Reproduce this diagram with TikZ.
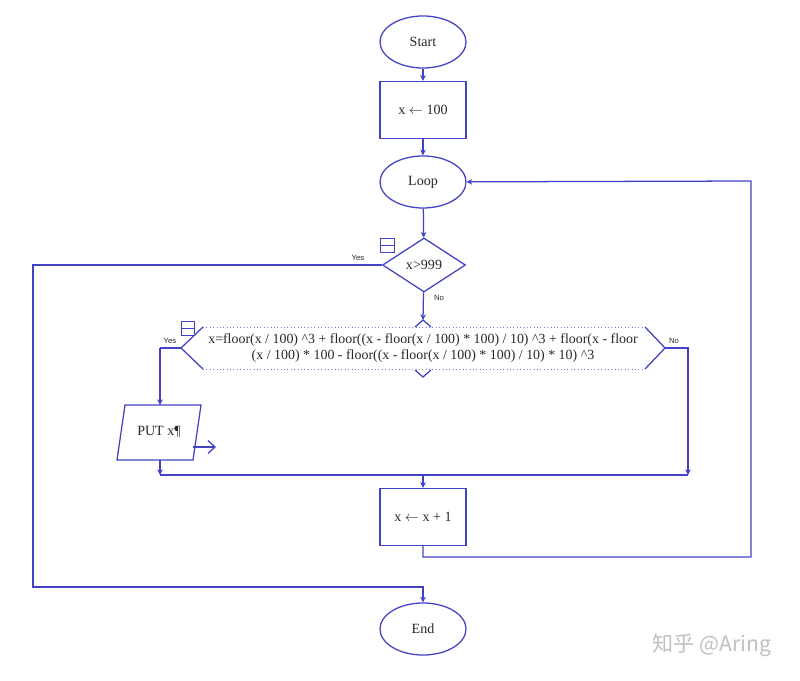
\documentclass[tikz,border=0pt]{standalone}
\usepackage{fontspec}
\setmainfont{Liberation Serif}
\newfontfamily\tagfont{Liberation Sans}
\newfontfamily\cjkfont{Noto Sans CJK SC}
\usetikzlibrary{shapes.geometric,arrows.meta}
\definecolor{flowblue}{RGB}{66,66,196}
\definecolor{flowtext}{RGB}{40,40,40}

\begin{document}
\begin{tikzpicture}[x=0.025cm, y=-0.025cm,
	every node/.style={text=flowtext, font=\fontsize{10}{12}\selectfont},
	term/.style={ellipse, draw=flowblue, line width=0.9pt, minimum width=2.15cm, minimum height=1.3cm, inner sep=0pt},
	proc/.style={rectangle, draw=flowblue, line width=0.9pt, minimum width=2.15cm, minimum height=1.425cm, inner sep=0pt},
	test/.style={diamond, draw=flowblue, line width=0.9pt, aspect=1.5, minimum width=2.075cm, minimum height=1.35cm, inner sep=0pt},
	tag/.style={font=\tagfont\fontsize{5.5}{6}\selectfont, inner sep=1pt},
	line/.style={draw=flowblue, line width=0.9pt},
	arr/.style={line, -{Stealth[length=4pt,width=4pt]}}]
	\useasboundingbox (0,0) rectangle (800,681);

	\node[term] (start) at (423,42) {Start};
	\node[proc] (init) at (423,110) {x $\leftarrow$ 100};
	\node[term] (loop) at (423,182) {Loop};
	\node[test] (check) at (424,265) {x>999};
	\node[align=center, font=\fontsize{9.9}{10.8}\selectfont] (calc) at (423,348) {x=floor(x / 100) \textasciicircum 3 + floor((x - floor(x / 100) * 100) / 10) \textasciicircum 3 + floor(x - floor\\(x / 100) * 100 - floor((x - floor(x / 100) * 100) / 10) * 10) \textasciicircum 3};
	\node (put) at (159,432) {PUT x¶};
	\node[proc] (inc) at (423,517) {x $\leftarrow$ x + 1};
	\node[term] (end) at (423,629) {End};

	\node[tag] (yesA) at (358,258) {Yes};
	\node[tag] (noA) at (439,298) {No};
	\node[tag] (yesB) at (170,341) {Yes};
	\node[tag] (noB) at (674,341) {No};

	\coordinate (calcT) at (423,320);
	\coordinate (calcL) at (181,348);
	\coordinate (calcR) at (665,348);
	\coordinate (yes1) at (33,265);
	\coordinate (yes2) at (33,587);
	\coordinate (yes3) at (423,587);
	\coordinate (left1) at (160,348);
	\coordinate (putN) at (160,405);
	\coordinate (putS) at (160,460);
	\coordinate (right1) at (688,348);
	\coordinate (joinL) at (160,475);
	\coordinate (joinR) at (688,475);
	\coordinate (joinM) at (423,475);
	\coordinate (back1) at (423,557);
	\coordinate (back2) at (751,557);
	\coordinate (back3) at (751,181);
	\coordinate (outA) at (193,447);
	\coordinate (outB) at (216,447);

	% frame of the assignment
	\draw[line] (203,327) -- (calcL) -- (203,369);
	\draw[line] (645,327) -- (calcR) -- (645,369);
	\draw[flowblue!70, dotted, thin] (203,327) -- (645,327);
	\draw[flowblue!70, dotted, thin] (203,369) -- (645,369);
	\draw[line] (415,327) -- (calcT) -- (431,327);
	\draw[line] (415,370) -- (423,377) -- (431,370);

	% output box
	\draw[line] (117,460) -- (125,405) -- (201,405) -- (193,460) -- cycle;

	% collapse marks
	\draw[line, thin] (380,238) rectangle (394,252);
	\draw[line, thin] (380,245) -- (394,245);
	\draw[line, thin] (181,321) rectangle (194,335);
	\draw[line, thin] (181,328) -- (194,328);

	\path[arr] (start) -- (init);
	\path[arr] (init) -- (loop);
	\path[arr] (loop) -- (check);
	\path[arr] (check) -- (calcT);
	\path[arr] (check.west) -- (yes1) -- (yes2) -- (yes3) -- (end);
	\path[line] (calcL) -- (left1);
	\path[arr] (left1) -- (putN);
	\path[arr] (putS) -- (joinL);
	\path[line] (joinL) -- (joinR);
	\path[arr] (calcR) -- (right1) -- (joinR);
	\path[arr] (joinM) -- (inc);
	\path[arr] (inc) -- (back1) -- (back2) -- (back3) -- (loop);
	\path[line, -{Straight Barb[length=5pt,width=9pt]}] (outA) -- (outB);

	\node[font=\cjkfont\fontsize{15}{18}\selectfont, text=black!25] (mark) at (712,645) {知乎 @Aring};
\end{tikzpicture}
\end{document}
